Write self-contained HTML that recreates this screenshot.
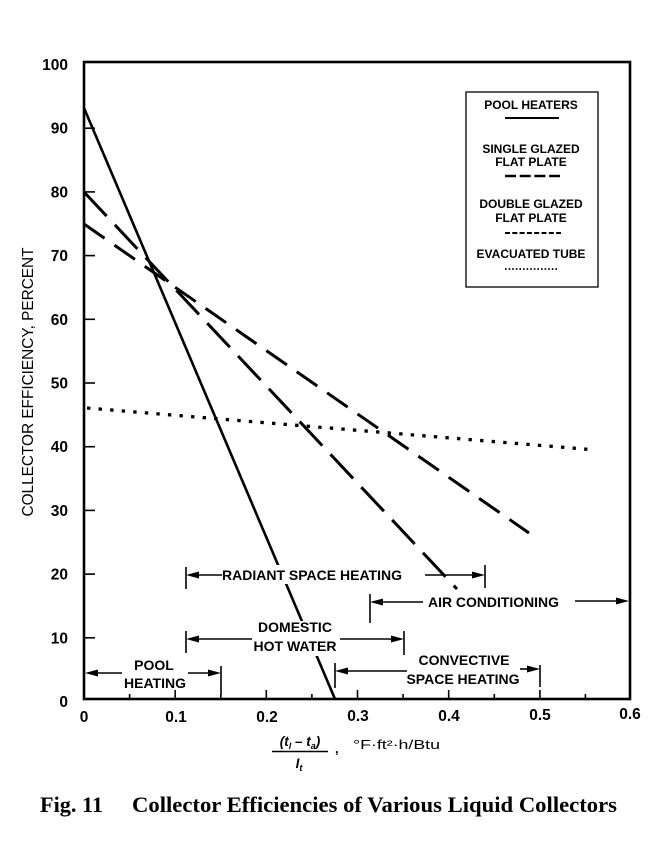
<!DOCTYPE html>
<html><head><meta charset="utf-8">
<style>
html,body{margin:0;padding:0;background:#fff;}
svg{display:block;}
.s{font-family:"Liberation Sans",Arial,sans-serif;}
.b{font-family:"Liberation Sans",Arial,sans-serif;font-weight:bold;}
</style></head>
<body>
<svg width="659" height="853" viewBox="0 0 659 853" xmlns="http://www.w3.org/2000/svg">
<rect width="659" height="853" fill="#fff"/>

<!-- data curves -->
<g stroke="#000" fill="none">
  <line x1="84" y1="108" x2="335" y2="699" stroke-width="2.6"/>
  <line x1="84" y1="192" x2="457" y2="589" stroke-width="3" stroke-dasharray="33 12"/>
  <line x1="84" y1="224" x2="529" y2="533" stroke-width="3" stroke-dasharray="25 12"/>
  <line x1="87" y1="408" x2="587.4" y2="449.3" stroke-width="3.3" stroke-dasharray="3.4 8.2"/>
</g>

<!-- white masks behind annotation text -->
<rect x="221" y="565" width="183" height="19" fill="#fff"/>
<rect x="254" y="621" width="85" height="35" fill="#fff"/>

<!-- annotations -->
<g stroke="#000" stroke-width="1.6" fill="none">
  <line x1="186" y1="567" x2="186" y2="589"/>
  <line x1="190" y1="575" x2="222" y2="575"/>
  <line x1="425" y1="575" x2="480" y2="575"/>
  <line x1="485" y1="565" x2="485" y2="588"/>
  <line x1="370" y1="594" x2="370" y2="623"/>
  <line x1="374" y1="602" x2="423" y2="602"/>
  <line x1="575" y1="601" x2="624" y2="601"/>
  <line x1="186" y1="631" x2="186" y2="653"/>
  <line x1="190" y1="639" x2="252" y2="639"/>
  <line x1="340" y1="639" x2="400" y2="639"/>
  <line x1="404" y1="631" x2="404" y2="655"/>
  <line x1="88" y1="673" x2="122" y2="673"/>
  <line x1="188" y1="673" x2="217" y2="673"/>
  <line x1="221" y1="666" x2="221" y2="695"/>
  <line x1="335" y1="663" x2="335" y2="688"/>
  <line x1="339" y1="671" x2="407" y2="671"/>
  <line x1="520" y1="669" x2="536" y2="669"/>
  <line x1="540" y1="665" x2="540" y2="687"/>
</g>
<g fill="#000">
  <polygon points="186,575 199,571.5 199,578.5"/>
  <polygon points="485,575 472,571.5 472,578.5"/>
  <polygon points="370,602 383,598.5 383,605.5"/>
  <polygon points="629,601 616,597.5 616,604.5"/>
  <polygon points="186,639 199,635.5 199,642.5"/>
  <polygon points="404,639 391,635.5 391,642.5"/>
  <polygon points="85,673 98,669.5 98,676.5"/>
  <polygon points="221,673 208,669.5 208,676.5"/>
  <polygon points="335,671 348,667.5 348,674.5"/>
  <polygon points="540,669 527,665.5 527,672.5"/>
</g>
<g class="b" font-size="14" fill="#000">
  <text x="222" y="580" textLength="180" lengthAdjust="spacingAndGlyphs">RADIANT SPACE HEATING</text>
  <text x="428" y="607" textLength="131" lengthAdjust="spacingAndGlyphs">AIR CONDITIONING</text>
  <text x="295" y="632" text-anchor="middle">DOMESTIC</text>
  <text x="295" y="651" text-anchor="middle">HOT WATER</text>
  <text x="154" y="670" text-anchor="middle">POOL</text>
  <text x="155" y="688" text-anchor="middle">HEATING</text>
  <text x="464" y="665" text-anchor="middle">CONVECTIVE</text>
  <text x="463" y="684" text-anchor="middle">SPACE HEATING</text>
</g>

<!-- legend -->
<rect x="466" y="92" width="132" height="195" fill="#fff" stroke="#000" stroke-width="1.3"/>
<g class="b" font-size="12" fill="#000" text-anchor="middle">
  <text x="531" y="109">POOL HEATERS</text>
  <text x="531" y="153">SINGLE GLAZED</text>
  <text x="531" y="166">FLAT PLATE</text>
  <text x="531" y="208">DOUBLE GLAZED</text>
  <text x="531" y="222">FLAT PLATE</text>
  <text x="531" y="258">EVACUATED TUBE</text>
</g>
<g stroke="#000" fill="none">
  <line x1="505" y1="118" x2="559" y2="118" stroke-width="2"/>
  <line x1="505" y1="176" x2="560" y2="176" stroke-width="2.4" stroke-dasharray="11 3.7"/>
  <line x1="505" y1="233" x2="561" y2="233" stroke-width="2" stroke-dasharray="5 2.3"/>
  <line x1="505" y1="269" x2="559" y2="269" stroke-width="1.8" stroke-dasharray="1.6 2"/>
</g>

<!-- axes frame -->
<rect x="84" y="62" width="546" height="637" fill="none" stroke="#000" stroke-width="2.6"/>

<!-- y ticks -->
<g stroke="#000" stroke-width="1.6">
  <line x1="84" y1="637.8" x2="95" y2="637.8"/>
  <line x1="84" y1="574.1" x2="95" y2="574.1"/>
  <line x1="84" y1="510.4" x2="95" y2="510.4"/>
  <line x1="84" y1="446.7" x2="95" y2="446.7"/>
  <line x1="84" y1="383" x2="95" y2="383"/>
  <line x1="84" y1="319.3" x2="95" y2="319.3"/>
  <line x1="84" y1="255.6" x2="95" y2="255.6"/>
  <line x1="84" y1="191.9" x2="95" y2="191.9"/>
  <line x1="84" y1="128.2" x2="95" y2="128.2"/>
</g>
<!-- x ticks -->
<g stroke="#000" stroke-width="1.6">
  <line x1="129.6" y1="699" x2="129.6" y2="694"/>
  <line x1="175.2" y1="699" x2="175.2" y2="690"/>
  <line x1="220.8" y1="699" x2="220.8" y2="694"/>
  <line x1="266.3" y1="699" x2="266.3" y2="690"/>
  <line x1="311.9" y1="699" x2="311.9" y2="694"/>
  <line x1="357.5" y1="699" x2="357.5" y2="690"/>
  <line x1="403.1" y1="699" x2="403.1" y2="694"/>
  <line x1="448.7" y1="699" x2="448.7" y2="690"/>
  <line x1="494.3" y1="699" x2="494.3" y2="694"/>
  <line x1="539.9" y1="699" x2="539.9" y2="690"/>
  <line x1="585.4" y1="699" x2="585.4" y2="694"/>
</g>

<!-- y tick labels -->
<g class="b" font-size="15.5" fill="#000" text-anchor="end">
  <text x="68" y="70">100</text>
  <text x="68" y="133.7">90</text>
  <text x="68" y="197.4">80</text>
  <text x="68" y="261.1">70</text>
  <text x="68" y="324.8">60</text>
  <text x="68" y="388.5">50</text>
  <text x="68" y="452.2">40</text>
  <text x="68" y="515.9">30</text>
  <text x="68" y="579.6">20</text>
  <text x="68" y="643.3">10</text>
  <text x="68" y="707">0</text>
</g>
<!-- x tick labels -->
<g class="b" font-size="15.5" fill="#000" text-anchor="middle">
  <text x="84" y="722">0</text>
  <text x="176" y="722">0.1</text>
  <text x="267" y="722">0.2</text>
  <text x="358" y="721">0.3</text>
  <text x="449" y="721">0.4</text>
  <text x="540" y="720">0.5</text>
  <text x="630" y="719">0.6</text>
</g>

<!-- y axis label -->
<text class="s" font-size="16" fill="#000" text-anchor="middle" transform="translate(33,382) rotate(-90)" textLength="269" lengthAdjust="spacingAndGlyphs">COLLECTOR EFFICIENCY,  PERCENT</text>

<!-- x axis label -->
<text class="b" font-style="italic" font-size="13.5" fill="#000" x="300" y="746" text-anchor="middle">(t<tspan font-size="9" dy="3">l</tspan><tspan dy="-3"> – t</tspan><tspan font-size="9" dy="3">a</tspan><tspan dy="-3">)</tspan></text>
<line x1="272" y1="751.5" x2="328" y2="751.5" stroke="#000" stroke-width="1.5"/>
<text class="b" font-style="italic" font-size="13.5" fill="#000" x="299" y="768" text-anchor="middle">I<tspan font-size="9" dy="3">t</tspan></text>
<text class="b" font-size="13" fill="#000" x="335" y="753">,</text>
<text class="s" font-size="13" fill="#000" x="353" y="749" textLength="87" lengthAdjust="spacingAndGlyphs">°F·ft²·h/Btu</text>

<!-- caption -->
<g font-family="'Liberation Serif','Times New Roman',serif" font-weight="bold" font-size="22.5" fill="#000">
  <text x="40" y="812" textLength="63" lengthAdjust="spacingAndGlyphs">Fig. 11</text>
  <text x="132" y="812" textLength="485" lengthAdjust="spacingAndGlyphs">Collector Efficiencies of Various Liquid Collectors</text>
</g>
</svg>
</body></html>
